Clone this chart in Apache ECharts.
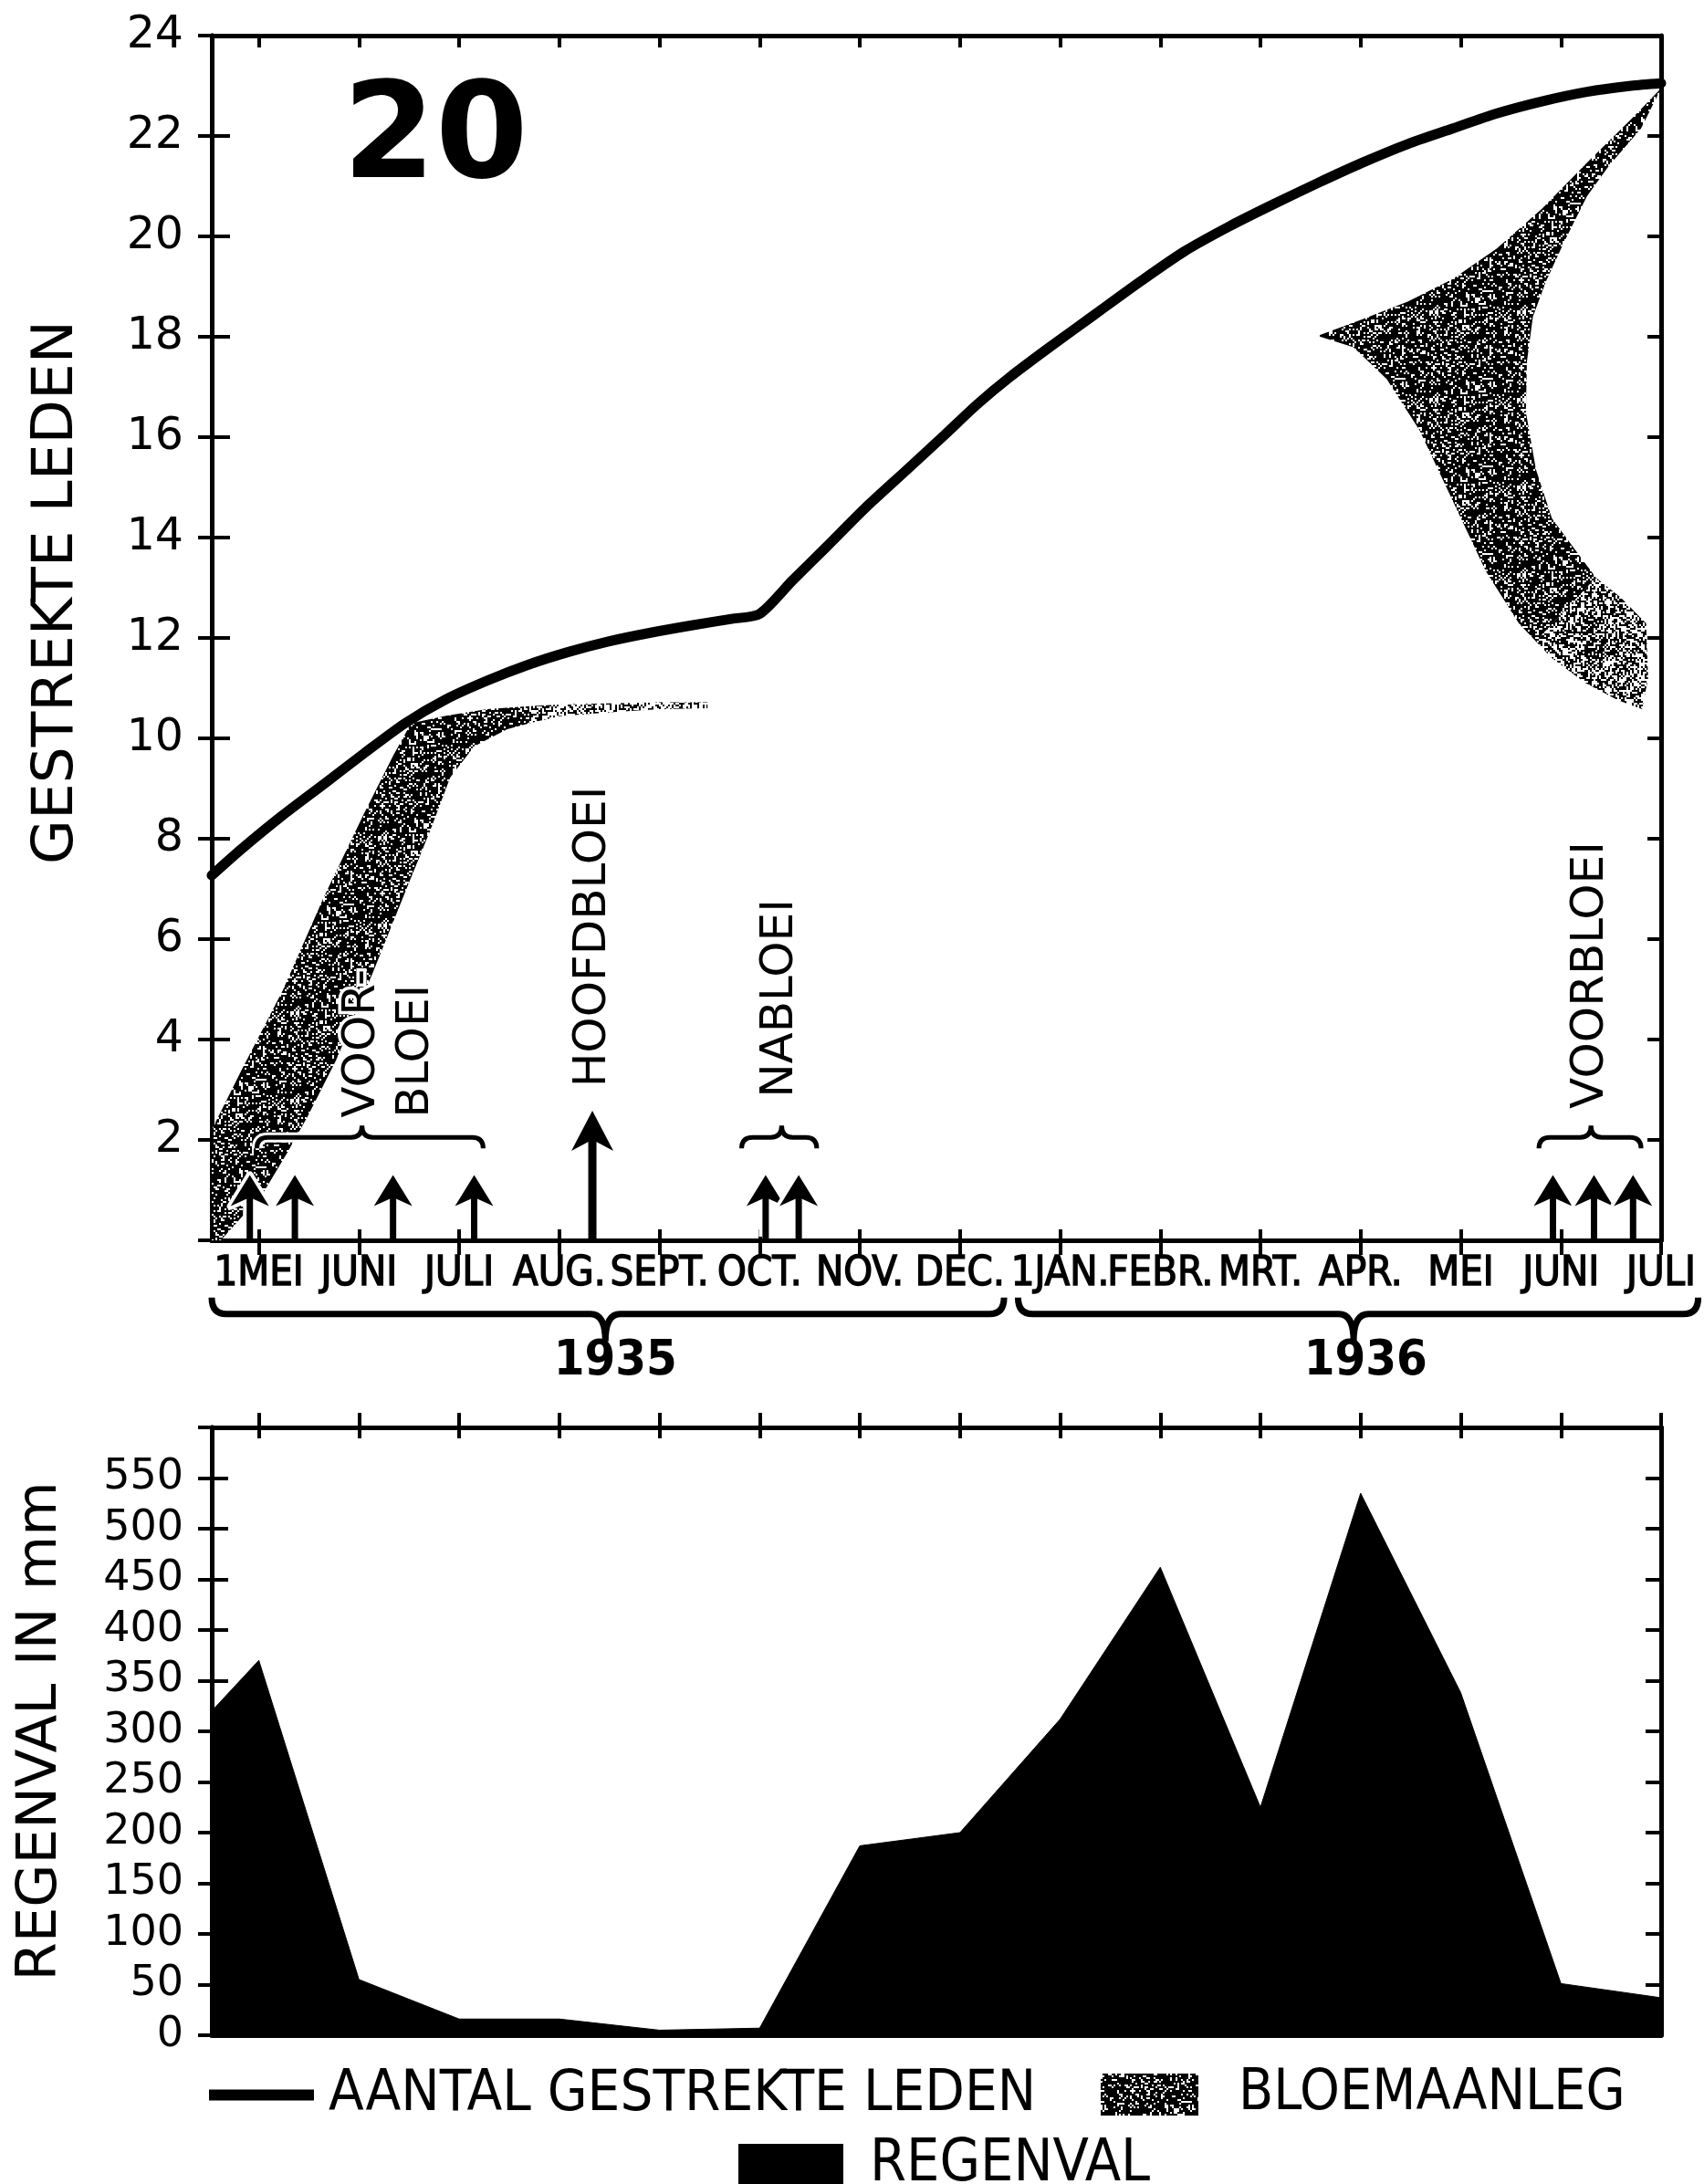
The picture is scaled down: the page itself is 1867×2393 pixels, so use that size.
<!DOCTYPE html>
<html><head><meta charset="utf-8">
<script src="https://cdn.jsdelivr.net/npm/echarts@6/dist/echarts.min.js"></script>
<style>html,body{margin:0;padding:0;background:#fff}#c{width:1867px;height:2393px}</style>
</head><body><div id="c"></div>
<script>
// ---------------- data ----------------
const monthTicks = [0,1,2,3,4,5,6,7,8,9,10,11,12,13,14];
const monthLabels = ['1MEI','JUNI','JULI','AUG.','SEPT.','OCT.','NOV.','DEC.','1JAN.','FEBR.','MRT.','APR.','MEI','JUNI','JULI'];
const yearLabels = ['1935','1936'];
const yearLabelX = [3.56, 11.05];
const yearBraces = [[-0.47, 7.44, 3.46], [7.58, 14.37, 10.93]];

// AANTAL GESTREKTE LEDEN (months after 1 May 1935, number of stretched internodes)
const ledenX = [-0.47,-0.17,0.24,0.65,1.05,1.46,1.87,2.28,2.68,3.09,3.49,3.9,4.32,4.72,5.0,5.33,5.66,6.06,6.47,6.85,7.17,7.5,7.9,8.35,8.8,9.24,9.69,10.13,10.58,11.02,11.47,11.92,12.36,12.81,13.26,13.7,14.0];
const ledenY = [7.27,7.8,8.47,9.09,9.7,10.3,10.78,11.15,11.46,11.72,11.93,12.1,12.25,12.38,12.48,13.15,13.8,14.6,15.35,16.05,16.65,17.2,17.8,18.45,19.1,19.7,20.2,20.64,21.07,21.47,21.84,22.15,22.45,22.69,22.88,23.0,23.05];

// BLOEMAANLEG outlines [month, leden]
const bloeiBand1 = [[-0.47,2.2],[-0.17,3.4],[0.24,4.98],[0.65,6.84],[1.05,8.5],[1.34,9.65],[1.52,10.3],[1.87,10.45],[2.28,10.58],[2.7,10.64],
  [2.7,10.3],[2.48,10.18],[2.15,9.84],[1.91,9.22],[1.71,8.16],[1.46,6.93],[1.14,5.34],[0.77,3.58],[0.48,2.44],[0.28,1.73],[0.04,0.93],[-0.38,0],[-0.47,0]];
const bloeiBand1Tail = [[2.7,10.64],[3.09,10.68],[3.6,10.7],[4.0,10.72],[4.48,10.72],[4.48,10.6],[4.0,10.58],[3.5,10.52],[3.0,10.44],[2.7,10.3]];
const bloeiHorn = [[10.57,18.02],[11.02,18.35],[11.47,18.7],[11.92,19.15],[12.36,19.76],[12.81,20.55],[13.26,21.47],[13.7,22.33],[14.0,22.95],
  [13.8,22.15],[13.48,21.41],[13.26,20.8],[13.03,19.88],[12.85,19.1],[12.72,18.4],[12.66,17.5],[12.65,16.5],[12.75,15.36],[12.91,14.38],[13.2,13.6],[13.35,13.2],
  [12.75,11.93],[12.58,12.29],[12.25,13.33],[11.92,14.73],[11.59,16.13],[11.26,17.16],[10.93,17.79]];
const bloeiHornTail = [[13.35,13.2],[13.6,12.8],[13.85,12.29],[13.87,11.2],[13.81,10.58],[13.57,10.76],[13.24,11.11],[12.91,11.6],[12.75,11.93]];

// flowering arrows
const arrowsAt = [-0.09,0.36,1.34,2.15,3.33,5.06,5.39,12.92,13.33,13.72];
const arrowsTop = [1.3,1.3,1.3,1.3,2.58,1.3,1.3,1.3,1.3,1.3];
const phaseLabels = ['VOOR-\nBLOEI','HOOFDBLOEI','NABLOEI','VOORBLOEI'];
const phaseLabelX = [1.30, 3.34, 5.21, 13.3];
const phaseLabelY = [2.44, 3.05, 2.84, 2.62];
const phaseBraces = [[-0.02, 2.24, 1.03], [4.82, 5.57, 5.22], [12.78, 13.8, 13.3]];
const phaseBraceLevel = 2.05;
const yearBraceLevel = -1.47;
const yearLabelLevel = -2.42;

// REGENVAL (mm per month)
const rainX = [-0.47,0,1,2,3,4,5,6,7,8,9,10,11,12,13,14];
const rainMm = [320,370,55,16,16,5,7,187,200,312,462,225,535,338,51,37];

const ledenTitle = 'GESTREKTE LEDEN';
const rainTitle = 'REGENVAL IN mm';
const figureNo = '20';

// ---------------- styling helpers ----------------
const BLACK = '#000';
const NARROW = "'Liberation Sans Narrow', 'DejaVu Sans Condensed', 'Roboto Condensed', 'Liberation Sans', sans-serif";
const SANS = "'DejaVu Sans', 'Liberation Sans', sans-serif";
const X_MIN = -0.47, X_MAX = 14;

function hash(x, y) {
  let h = (Math.imul(x, 374761393) + Math.imul(y, 668265263)) | 0;
  h = Math.imul(h ^ (h >>> 13), 1274126177);
  h = h ^ (h >>> 16);
  return (h >>> 0) / 4294967296;
}
function makeStipple(density) {
  const n = 48, cell = 2;
  const c = document.createElement('canvas');
  c.width = c.height = n * cell;
  const ctx = c.getContext('2d');
  ctx.fillStyle = '#fff';
  ctx.fillRect(0, 0, n * cell, n * cell);
  ctx.fillStyle = '#000';
  for (let y = 0; y < n; y++) for (let x = 0; x < n; x++) {
    if (hash(x + 1, y + 7) < density) ctx.fillRect(x * cell, y * cell, cell, cell);
  }
  return {image: c, repeat: 'repeat'};
}
const stippleDark = makeStipple(0.76);
const stippleLight = makeStipple(0.42);
const stippleMid = makeStipple(0.55);

const axisLine = {show: true, onZero: false, lineStyle: {color: BLACK, width: 5, cap: 'round'}};
const tickStyle = {color: BLACK, width: 4};
function xAx(o) {
  return Object.assign({type: 'value', min: X_MIN, max: X_MAX, splitLine: {show: false}, axisLine: axisLine,
    axisLabel: {show: false}, axisTick: {show: false}}, o);
}
function yAx(o) {
  return Object.assign({type: 'value', splitLine: {show: false}, axisLine: axisLine,
    axisLabel: {show: false}, axisTick: {show: false}}, o);
}
function mt(len, inside) {
  return {show: true, customValues: monthTicks, length: len, inside: inside, lineStyle: tickStyle};
}

const bloeiShapes = [
  {points: bloeiBand1, fill: stippleDark},
  {points: bloeiBand1Tail, fill: stippleLight},
  {points: bloeiHorn, fill: stippleDark},
  {points: bloeiHornTail, fill: stippleMid}
];

const option = {
  animation: false,
  backgroundColor: '#fff',
  textStyle: {fontFamily: SANS, color: BLACK},
  grid: [
    {left: 232, top: 39, width: 1588, height: 1320, outerBoundsMode: 'none', containLabel: false},
    {left: 232, top: 1564, width: 1588, height: 666, outerBoundsMode: 'none', containLabel: false}
  ],
  xAxis: [
    xAx({gridIndex: 0, position: 'bottom', axisTick: mt(16, false),
      axisLabel: {show: true, customValues: monthTicks, formatter: v => monthLabels[Math.round(v)],
        showMinLabel: true, showMaxLabel: true, hideOverlap: false,
        fontFamily: NARROW, fontSize: 45, color: BLACK, textBorderColor: BLACK, textBorderWidth: 1.4, margin: 15}}),
    xAx({gridIndex: 0, position: 'bottom', axisTick: mt(12, true)}),
    xAx({gridIndex: 0, position: 'top', axisTick: mt(13, true)}),
    xAx({gridIndex: 1, position: 'bottom'}),
    xAx({gridIndex: 1, position: 'top', axisTick: mt(16, false)}),
    xAx({gridIndex: 1, position: 'top', axisTick: mt(12, true)})
  ],
  yAxis: [
    yAx({gridIndex: 0, position: 'left', min: 0, max: 24, interval: 2,
      axisTick: {show: true, length: 15, lineStyle: tickStyle},
      axisLabel: {show: true, formatter: v => v === 0 ? '' : String(v), fontFamily: SANS, fontSize: 49, color: BLACK, margin: 31},
      name: ledenTitle, nameLocation: 'middle', nameGap: 138,
      nameTextStyle: {fontFamily: SANS, fontSize: 63, color: BLACK, padding: [0, 0, 0, 100]}}),
    yAx({gridIndex: 0, position: 'left', min: 0, max: 24, interval: 2, axisTick: {show: true, inside: true, length: 20, lineStyle: tickStyle}}),
    yAx({gridIndex: 0, position: 'right', min: 0, max: 24, interval: 2, axisTick: {show: true, inside: true, length: 15, lineStyle: tickStyle}}),
    yAx({gridIndex: 1, position: 'left', min: 0, max: 600, interval: 50,
      axisTick: {show: true, length: 15, lineStyle: tickStyle},
      axisLabel: {show: true, formatter: v => v === 600 ? '' : String(v), fontFamily: SANS, fontSize: 46, color: BLACK, margin: 31},
      name: rainTitle, nameLocation: 'middle', nameGap: 156,
      nameTextStyle: {fontFamily: SANS, fontSize: 61, color: BLACK}}),
    yAx({gridIndex: 1, position: 'left', min: 0, max: 600, interval: 50, axisTick: {show: true, inside: true, length: 18, lineStyle: tickStyle}}),
    yAx({gridIndex: 1, position: 'right', min: 0, max: 600, interval: 50, axisTick: {show: true, inside: true, length: 17, lineStyle: tickStyle}})
  ],
  legend: [
    {left: 229, top: 2264, padding: 0, itemWidth: 115, itemHeight: 12, selectedMode: false,
      data: [{name: 'AANTAL GESTREKTE LEDEN', icon: 'rect', itemStyle: {color: BLACK}}],
      textStyle: {fontFamily: NARROW, fontSize: 63, color: BLACK, padding: [0, 0, 0, 11]}},
    {left: 1206, top: 2264, padding: 0, itemWidth: 107, itemHeight: 46, selectedMode: false,
      data: [{name: 'BLOEMAANLEG', icon: 'rect', itemStyle: {color: stippleDark}}],
      textStyle: {fontFamily: NARROW, fontSize: 62, color: BLACK, padding: [0, 0, 0, 39]}},
    {left: 809, top: 2340, padding: 0, itemWidth: 115, itemHeight: 46, selectedMode: false,
      data: [{name: 'REGENVAL', icon: 'rect', itemStyle: {color: BLACK}}],
      textStyle: {fontFamily: NARROW, fontSize: 64, color: BLACK, padding: [0, 0, 0, 24]}}
  ],
  graphic: [
    {type: 'text', x: 477, y: 156, style: {text: figureNo, font: "bold 146px 'DejaVu Sans', sans-serif", fill: BLACK, align: 'center', verticalAlign: 'middle'}}
  ],
  series: [
    {
      type: 'custom', name: 'BLOEMAANLEG', xAxisIndex: 0, yAxisIndex: 0, z: 2, clip: false,
      itemStyle: {color: stippleDark},
      data: bloeiShapes.map(s => s.points[0]),
      renderItem: function (params, api) {
        const s = bloeiShapes[params.dataIndex];
        return {type: 'polygon', shape: {points: s.points.map(p => api.coord(p))}, style: {fill: s.fill}};
      }
    },
    {
      type: 'line', name: 'AANTAL GESTREKTE LEDEN', xAxisIndex: 0, yAxisIndex: 0, z: 3,
      data: ledenX.map((x, i) => [x, ledenY[i]]),
      symbol: 'none', smooth: 0.25,
      lineStyle: {color: BLACK, width: 11, cap: 'round', join: 'round'},
      itemStyle: {color: BLACK}
    },
    {
      type: 'line', name: 'REGENVAL', xAxisIndex: 3, yAxisIndex: 3, z: 2,
      data: rainX.map((x, i) => [x, rainMm[i]]),
      symbol: 'none', lineStyle: {color: BLACK, width: 1}, itemStyle: {color: BLACK},
      areaStyle: {color: BLACK, opacity: 1}
    },
    {
      type: 'custom', name: 'arrows', xAxisIndex: 0, yAxisIndex: 0, z: 4, clip: false,
      data: arrowsAt.map((x, i) => [x, arrowsTop[i]]),
      renderItem: function (params, api) {
        const x = api.value(0), top = api.value(1);
        const p0 = api.coord([x, 0]), p1 = api.coord([x, top]);
        const tall = top > 2;
        const hh = tall ? 44 : 34, hw = tall ? 46 : 42, sw = tall ? 9 : 7;
        const head = [[p1[0], p1[1]], [p1[0] - hw / 2, p1[1] + hh], [p1[0], p1[1] + hh * 0.72], [p1[0] + hw / 2, p1[1] + hh]];
        return {type: 'group', children: [
          {type: 'line', shape: {x1: p0[0], y1: p0[1] - 4, x2: p1[0], y2: p1[1] + hh * 0.6}, style: {stroke: '#fff', lineWidth: sw + 8}},
          {type: 'polygon', shape: {points: head}, style: {fill: '#fff', stroke: '#fff', lineWidth: 8, lineJoin: 'round'}},
          {type: 'line', shape: {x1: p0[0], y1: p0[1], x2: p1[0], y2: p1[1] + hh * 0.6}, style: {stroke: BLACK, lineWidth: sw}},
          {type: 'polygon', shape: {points: head}, style: {fill: BLACK}}
        ]};
      }
    },
    {
      type: 'custom', name: 'phaseBraces', xAxisIndex: 0, yAxisIndex: 0, z: 4, clip: false,
      data: phaseBraces,
      renderItem: function (params, api) {
        const a = api.coord([api.value(0), phaseBraceLevel]);
        const b = api.coord([api.value(1), phaseBraceLevel]);
        const t = api.coord([api.value(2), phaseBraceLevel]);
        const y = a[1], r = 12;
        const d = 'M' + a[0] + ',' + (y + 12) + ' Q' + a[0] + ',' + y + ' ' + (a[0] + r) + ',' + y +
          ' L' + (t[0] - r) + ',' + y + ' Q' + t[0] + ',' + y + ' ' + t[0] + ',' + (y - 13) +
          ' Q' + t[0] + ',' + y + ' ' + (t[0] + r) + ',' + y +
          ' L' + (b[0] - r) + ',' + y + ' Q' + b[0] + ',' + y + ' ' + b[0] + ',' + (y + 12);
        return {type: 'group', children: [
          {type: 'path', shape: {pathData: d}, style: {stroke: '#fff', lineWidth: 11, fill: null}},
          {type: 'path', shape: {pathData: d}, style: {stroke: BLACK, lineWidth: 5, fill: null}}
        ]};
      }
    },
    {
      type: 'custom', name: 'phaseLabels', xAxisIndex: 0, yAxisIndex: 0, z: 4, clip: false,
      data: phaseLabelX.map((x, i) => [x, phaseLabelY[i]]),
      renderItem: function (params, api) {
        const p = api.coord([api.value(0), api.value(1)]);
        return {type: 'text', x: p[0], y: p[1], rotation: Math.PI / 2,
          style: {text: phaseLabels[params.dataIndex], fontFamily: SANS, fontSize: 50, lineHeight: 59,
            fill: BLACK, align: 'left', verticalAlign: 'middle', stroke: '#fff', lineWidth: 7}};
      }
    },
    {
      type: 'custom', name: 'years', xAxisIndex: 0, yAxisIndex: 0, z: 4, clip: false,
      data: yearBraces,
      renderItem: function (params, api) {
        const a = api.coord([api.value(0), yearBraceLevel]);
        const b = api.coord([api.value(1), yearBraceLevel]);
        const t = api.coord([api.value(2), yearBraceLevel]);
        const lab = api.coord([yearLabelX[params.dataIndex], yearLabelLevel]);
        const y = a[1], r = 16;
        const d = 'M' + a[0] + ',' + (y - 18) + ' Q' + a[0] + ',' + y + ' ' + (a[0] + r) + ',' + y +
          ' L' + (t[0] - r) + ',' + y + ' Q' + t[0] + ',' + y + ' ' + t[0] + ',' + (y + 30) +
          ' Q' + t[0] + ',' + y + ' ' + (t[0] + r) + ',' + y +
          ' L' + (b[0] - r) + ',' + y + ' Q' + b[0] + ',' + y + ' ' + b[0] + ',' + (y - 18);
        return {type: 'group', children: [
          {type: 'path', shape: {pathData: d}, style: {stroke: BLACK, lineWidth: 7, fill: null}},
          {type: 'text', x: lab[0], y: lab[1], style: {text: yearLabels[params.dataIndex], fontFamily: NARROW,
            fontWeight: 'bold', fontSize: 54, fill: BLACK, align: 'center', verticalAlign: 'middle'}}
        ]};
      }
    }
  ]
};
const chart = echarts.init(document.getElementById('c'), null, {renderer: 'canvas', width: 1867, height: 2393});
chart.setOption(option);
</script></body></html>
